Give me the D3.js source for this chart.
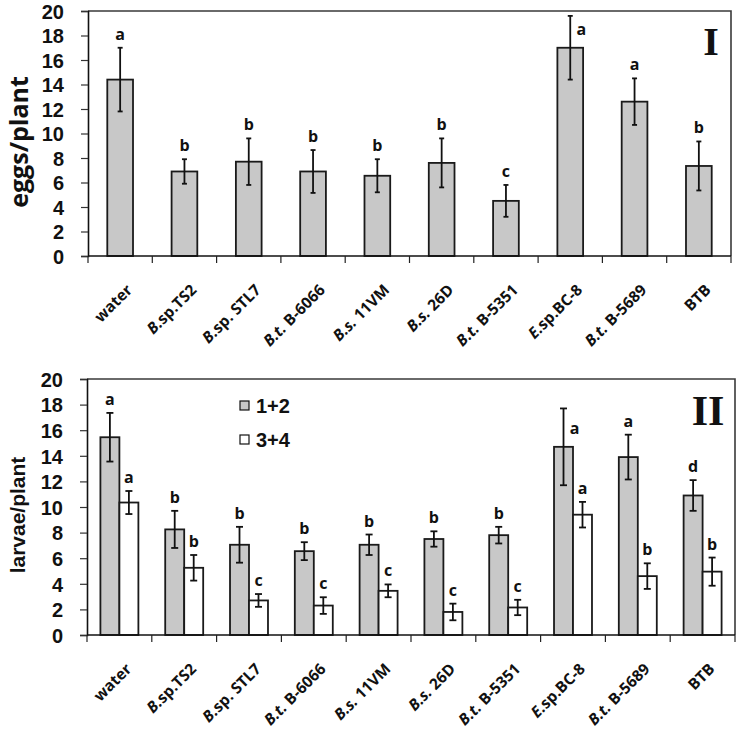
<!DOCTYPE html>
<html>
<head>
<meta charset="utf-8">
<script src="https://cdn.jsdelivr.net/npm/d3@7"></script>
<style>
  html, body { margin: 0; padding: 0; background: #fff; }
  svg { display: block; }
</style>
</head>
<body>
<svg id="chart" width="739" height="740"></svg>
<script>
// ---------------- DATA ----------------
const categories = ["water", "B.sp.TS2", "B.sp. STL7", "B.t. B-6066", "B.s. 11VM",
                    "B.s. 26D", "B.t. B-5351", "E.sp.BC-8", "B.t. B-5689", "BTB"];
const yTicks = [0, 2, 4, 6, 8, 10, 12, 14, 16, 18, 20];

// Panel I : eggs / plant
const eggsMean    = [14.4, 6.9, 7.7, 6.9, 6.55, 7.6, 4.5, 17.0, 12.6, 7.35];
const eggsErr     = [2.6, 1.0, 1.9, 1.75, 1.35, 2.0, 1.3, 2.6, 1.9, 2.0];
const eggsLetters = ["a", "b", "b", "b", "b", "b", "c", "a", "a", "b"];

// Panel II : larvae / plant
const seriesNames  = ["1+2", "3+4"];
const larvae12Mean = [15.45, 8.25, 7.05, 6.55, 7.05, 7.5, 7.8, 14.7, 13.9, 10.9];
const larvae12Err  = [1.9, 1.45, 1.4, 0.7, 0.8, 0.6, 0.65, 3.0, 1.75, 1.2];
const larvae12Let  = ["a", "b", "b", "b", "b", "b", "b", "a", "a", "d"];
const larvae34Mean = [10.35, 5.25, 2.7, 2.3, 3.45, 1.8, 2.15, 9.4, 4.6, 4.95];
const larvae34Err  = [0.9, 1.0, 0.5, 0.65, 0.5, 0.65, 0.6, 1.0, 1.0, 1.1];
const larvae34Let  = ["a", "b", "c", "c", "c", "c", "c", "a", "b", "b"];

// ---------------- STYLE ----------------
const GRAY = "#c8c8c8";
const SANS = "'Liberation Sans', Arial, sans-serif";
const CAL  = "'Open Sans', 'Noto Sans', sans-serif";
const SERIF = "'Liberation Serif', 'Times New Roman', serif";

const svg = d3.select("#chart");

function labelParts(s) {
  let m = s.match(/^([A-Z]\.[a-z]\.)(.*)$/);
  if (m) return [[m[1], true], [m[2], false]];
  m = s.match(/^([A-Z]\.)(sp\..*)$/);
  if (m) return [[m[1], true], [m[2], false]];
  return [[s, false]];
}

function drawPanel(opt) {
  const g = svg.append("g");
  const x = d3.scaleBand().domain(categories).range([opt.x0, opt.x1]).padding(0);
  const y = d3.scaleLinear().domain([0, 20]).range([opt.yBot, opt.yTop]);
  const bw = x.bandwidth();

  // frame (top + right)
  g.append("path")
    .attr("d", `M${opt.x0},${opt.yTop}H${opt.x1}V${opt.yBot}`)
    .attr("fill", "none").attr("stroke", "#3a3a3a").attr("stroke-width", 1.6);

  // bars
  opt.series.forEach((s, si) => {
    const w = bw * opt.barFrac;
    const off = opt.series.length === 1 ? -w / 2 : (si === 0 ? -w : 0);
    const bg = g.append("g");
    bg.selectAll("rect").data(s.mean).join("rect")
      .attr("x", (d, i) => x(categories[i]) + bw / 2 + off)
      .attr("y", d => y(d))
      .attr("width", w)
      .attr("height", d => y(0) - y(d))
      .attr("fill", s.fill).attr("stroke", "#1a1a1a").attr("stroke-width", 1.8);
    // error bars
    const cx = i => x(categories[i]) + bw / 2 + off + w / 2;
    const eg = g.append("g").attr("stroke", "#111").attr("stroke-width", 1.8);
    s.mean.forEach((m, i) => {
      const e = s.err[i];
      eg.append("line").attr("x1", cx(i)).attr("x2", cx(i)).attr("y1", y(m + e)).attr("y2", y(m - e));
      eg.append("line").attr("x1", cx(i) - opt.cap).attr("x2", cx(i) + opt.cap).attr("y1", y(m + e)).attr("y2", y(m + e));
      eg.append("line").attr("x1", cx(i) - opt.cap).attr("x2", cx(i) + opt.cap).attr("y1", y(m - e)).attr("y2", y(m - e));
      // significance letter
      const top = m + e;
      let lx = cx(i), ly = y(top) - 8;
      if (top > 17.5) { lx = cx(i) + 11; ly = y(m) - 13; }
      g.append("text").attr("x", lx).attr("y", ly)
        .attr("text-anchor", "middle")
        .style("font-family", CAL).style("font-weight", "700").style("font-size", "16px")
        .attr("fill", "#111").text(s.letters[i]);
    });
  });

  // y axis
  const ya = g.append("g").attr("transform", `translate(${opt.x0},0)`)
    .call(d3.axisLeft(y).tickValues(yTicks).tickSize(7).tickPadding(17).tickFormat(d3.format("d")));
  ya.select(".domain").attr("stroke", "#111").attr("stroke-width", 1.6);
  ya.selectAll(".tick line").attr("stroke", "#333").attr("stroke-width", 1.2);
  ya.selectAll(".tick text")
    .style("font-family", SANS).style("font-weight", "700").style("font-size", "20px")
    .attr("fill", "#111").attr("dy", "0.36em");

  // x axis
  const xa = g.append("g").attr("transform", `translate(0,${opt.yBot})`);
  xa.append("line").attr("x1", opt.x0).attr("x2", opt.x1).attr("y1", 0).attr("y2", 0)
    .attr("stroke", "#111").attr("stroke-width", 1.6);
  const bounds = categories.map(c => x(c)).concat([opt.x1]);
  xa.selectAll("line.t").data(bounds).join("line").attr("class", "t")
    .attr("x1", d => d).attr("x2", d => d).attr("y1", 0).attr("y2", 7)
    .attr("stroke", "#222").attr("stroke-width", 1.2);

  // category labels, rotated 45 degrees
  const c45 = Math.SQRT1_2;
  categories.forEach(c => {
    const px = x(c) + bw / 2 + 13, py = opt.yBot + 35;
    const lg = svg.append("g")
      .attr("transform", `matrix(${c45},${-c45},${c45},${c45},${px},${py})`);
    const parts = labelParts(c).slice().reverse();
    let end = 0;
    parts.forEach(([txt, it]) => {
      const t = lg.append("text")
        .attr("x", end).attr("y", 0)
        .attr("text-anchor", "end")
        .style("font-family", CAL).style("font-weight", "700").style("font-size", "15.5px")
        .style("font-style", it ? "italic" : "normal")
        .attr("fill", "#111").text(txt.replace(/ /g, "\u00A0"));
      end -= t.node().getComputedTextLength();
    });
  });

  // y title
  g.append("text")
    .attr("transform", `translate(${opt.titleX},${opt.titleY}) rotate(-90)`)
    .attr("text-anchor", "middle")
    .style("font-family", opt.titleFont).style("font-weight", "700").style("font-size", opt.titleSize)
    .attr("fill", "#111").text(opt.title);

  // panel numeral
  g.append("text").attr("x", opt.numX).attr("y", opt.numY).attr("text-anchor", "middle")
    .style("font-family", SERIF).style("font-weight", "700").style("font-size", opt.numSize)
    .attr("fill", "#111").text(opt.numeral);

  return { x, y };
}

drawPanel({
  x0: 88, x1: 731, yTop: 11, yBot: 256, barFrac: 0.4, cap: 2.5,
  series: [{ mean: eggsMean, err: eggsErr, letters: eggsLetters, fill: GRAY }],
  title: "eggs/plant", titleX: 28, titleY: 142, titleFont: CAL, titleSize: "25px",
  numeral: "I", numX: 711, numY: 55, numSize: "40px"
});

drawPanel({
  x0: 87, x1: 735, yTop: 379, yBot: 635, barFrac: 0.293, cap: 3.5,
  series: [
    { mean: larvae12Mean, err: larvae12Err, letters: larvae12Let, fill: GRAY },
    { mean: larvae34Mean, err: larvae34Err, letters: larvae34Let, fill: "#ffffff" }
  ],
  title: "larvae/plant", titleX: 25, titleY: 515, titleFont: SANS, titleSize: "21px",
  numeral: "II", numX: 708, numY: 425, numSize: "42px"
});

// legend (panel II)
const legFills = [GRAY, "#ffffff"];
const leg = svg.append("g");
seriesNames.forEach((n, i) => {
  const yy = 401 + i * 34;
  leg.append("rect").attr("x", 240).attr("y", yy).attr("width", 9).attr("height", 9)
    .attr("fill", legFills[i]).attr("stroke", "#111").attr("stroke-width", 1.2);
  leg.append("text").attr("x", 256).attr("y", yy + 12)
    .style("font-family", SANS).style("font-weight", "700").style("font-size", "20px")
    .attr("fill", "#111").text(n);
});
</script>
</body>
</html>
